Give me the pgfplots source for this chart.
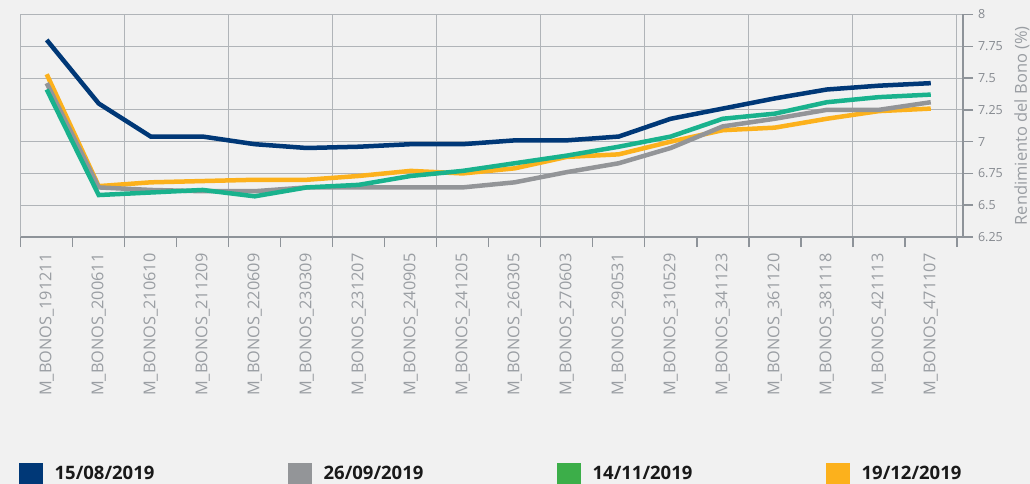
\documentclass[border=0pt]{standalone}
\usepackage{pgfplots}
\usepackage{pgfplotstable}
\pgfplotsset{compat=1.18}
\usepackage{fontspec}
\setmainfont{Open Sans}
\definecolor{bg}{HTML}{F1F1F1}
\definecolor{cblue}{HTML}{003877}
\definecolor{cgray}{HTML}{939598}
\definecolor{cteal}{HTML}{19B28D}
\definecolor{cgreen}{HTML}{3CAE49}
\definecolor{corange}{HTML}{FCB11C}
\definecolor{gridc}{HTML}{B0B4B8}
\definecolor{axisc}{HTML}{8E9399}
\definecolor{labc}{HTML}{9A9EA3}
\definecolor{ytc}{HTML}{868A90}

\pgfplotstableread{
x a b c d
0 7.80 7.46 7.41 7.53
1 7.30 6.64 6.58 6.65
2 7.04 6.62 6.60 6.68
3 7.04 6.61 6.62 6.69
4 6.98 6.61 6.57 6.70
5 6.95 6.64 6.64 6.70
6 6.96 6.64 6.66 6.73
7 6.98 6.64 6.73 6.77
8 6.98 6.64 6.77 6.75
9 7.01 6.68 6.83 6.79
10 7.01 6.76 6.89 6.88
11 7.04 6.83 6.96 6.90
12 7.18 6.95 7.04 7.00
13 7.26 7.12 7.18 7.09
14 7.34 7.18 7.22 7.11
15 7.41 7.25 7.31 7.18
16 7.44 7.25 7.35 7.24
17 7.46 7.31 7.37 7.26
}\data

\begin{document}
\begin{tikzpicture}[x=1pt,y=1pt]
\fill[bg] (0,0) rectangle (1030,484);
\useasboundingbox (0,0) rectangle (1030,484);
\begin{axis}[
  at={(20.7pt,247pt)}, anchor=south west,
  width=942.3pt, height=222.5pt, scale only axis,
  xmin=-0.5, xmax=17.62, ymin=6.25, ymax=8,
  axis x line*=bottom, axis y line*=right,
  axis line style={-, draw=axisc, line width=1.5pt},
  tick align=outside,
  major tick length=10pt, minor tick length=10pt,
  every tick/.style={axisc, line width=1.5pt},
  xtick={-0.5,1.5,...,17.5}, xticklabels={},
  minor xtick={0.5,2.5,...,16.5},
  extra x ticks={0,1,...,17},
  extra x tick labels={M\_BONOS\_191211,M\_BONOS\_200611,M\_BONOS\_210610,M\_BONOS\_211209,M\_BONOS\_220609,M\_BONOS\_230309,M\_BONOS\_231207,M\_BONOS\_240905,M\_BONOS\_241205,M\_BONOS\_260305,M\_BONOS\_270603,M\_BONOS\_290531,M\_BONOS\_310529,M\_BONOS\_341123,M\_BONOS\_361120,M\_BONOS\_381118,M\_BONOS\_421113,M\_BONOS\_471107},
  extra x tick style={grid=none, major tick length=0pt,
     tick label style={rotate=90, anchor=east, xshift=-13pt, font=\fontsize{16.3}{18}\selectfont, text=labc}},
  ytick={6.25,6.5,6.75,7,7.25,7.5,7.75,8},
  yticklabels={6.25,6.5,6.75,7,7.25,7.5,7.75,8},
  yticklabel style={font=\fontsize{12.5}{14}\selectfont, text=ytc, anchor=west, xshift=1.5pt},
  xmajorgrids, ymajorgrids,
  major grid style={gridc, line width=0.8pt},
  ylabel={Rendimiento del Bono (\%)},
  ylabel style={at={(axis description cs:1.0626,0.5)}, anchor=center, font=\fontsize{16.5}{18}\selectfont, text=labc},
  legend columns=4,
  legend style={at={(axis description cs:-0.0024,-1.063)}, anchor=west, draw=none, fill=none,
     inner sep=0pt, nodes={inner sep=0pt, text width=233pt, font=\bfseries\fontsize{18.5}{22}\selectfont, text=black!90},
     /tikz/every odd column/.append style={column sep=12pt}},
  legend cell align=left,
  line join=miter, line cap=butt,
]
\addlegendimage{legend image code/.code={\fill[cblue] (0pt,-10.5pt) rectangle (23.6pt,10.5pt);}}
\addlegendentry{15/08/2019}
\addlegendimage{legend image code/.code={\fill[cgray] (0pt,-10.5pt) rectangle (23.6pt,10.5pt);}}
\addlegendentry{26/09/2019}
\addlegendimage{legend image code/.code={\fill[cgreen] (0pt,-10.5pt) rectangle (23.6pt,10.5pt);}}
\addlegendentry{14/11/2019}
\addlegendimage{legend image code/.code={\fill[corange] (0pt,-10.5pt) rectangle (23.6pt,10.5pt);}}
\addlegendentry{19/12/2019}
\addplot[corange, line width=4.5pt, forget plot] table[x=x,y=d]{\data};
\addplot[cgray, line width=4.5pt, forget plot] table[x=x,y=b]{\data};
\addplot[cteal, line width=4.5pt, forget plot] table[x=x,y=c]{\data};
\addplot[cblue, line width=4.5pt, forget plot] table[x=x,y=a]{\data};
\end{axis}
\end{tikzpicture}
\end{document}
